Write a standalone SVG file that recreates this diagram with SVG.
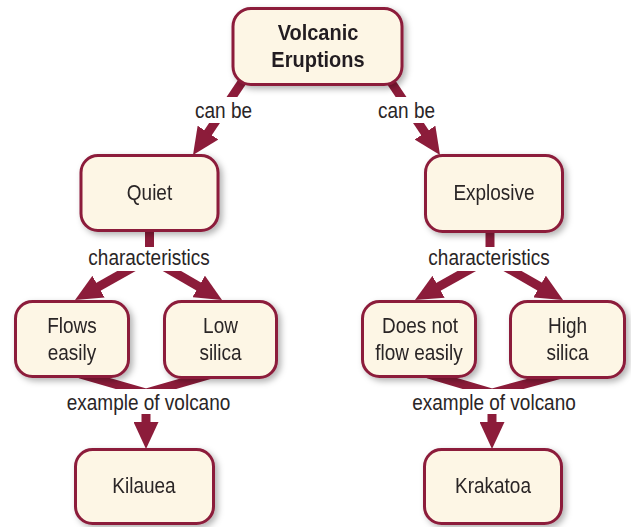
<svg xmlns="http://www.w3.org/2000/svg" width="631" height="527" viewBox="0 0 631 527">
<defs>
<style>
.box{fill:#fdf6e5;stroke:#8c1c3a;stroke-width:3;}
.node{filter:url(#sh);}
.t{font-family:"Liberation Sans",Arial,sans-serif;font-size:19px;fill:#2a2526;text-anchor:middle;}
.tb{font-family:"Liberation Sans",Arial,sans-serif;font-size:20px;font-weight:bold;fill:#231f20;text-anchor:middle;}
.c{fill:none;stroke:#8c1c3a;stroke-width:9;stroke-linejoin:miter;}
.a{marker-end:url(#ah);}
.bg{fill:#ffffff;}
</style>
<filter id="sh" x="-20%" y="-20%" width="150%" height="150%">
<feDropShadow dx="3" dy="3" stdDeviation="3" flood-color="#000" flood-opacity="0.3"/>
</filter>
<marker id="ah" viewBox="0 0 27 25" refX="13" refY="12.5" markerWidth="27" markerHeight="25" markerUnits="userSpaceOnUse" orient="auto">
<path d="M0,0 L27,12.5 L0,25 Z" fill="#8c1c3a"/>
</marker>
</defs>
<rect width="631" height="527" fill="#ffffff"/>
<g id="connectors">
<line class="c a" x1="246.7" y1="75" x2="200.8" y2="143.4"/>
<line class="c a" x1="386.3" y1="75" x2="432.2" y2="143.4"/>
<path class="c" d="M149.5,225 L149.5,258"/>
<line class="c a" x1="149.5" y1="258" x2="87.2" y2="293.1"/>
<line class="c a" x1="149.5" y1="258" x2="209.9" y2="293"/>
<path class="c" d="M490,225 L490,258"/>
<line class="c a" x1="490" y1="258" x2="427.2" y2="293.1"/>
<line class="c a" x1="490" y1="258" x2="550.9" y2="293"/>
<path class="c" d="M80,374 L146,393 L212,374"/>
<line class="c a" x1="146" y1="393" x2="146" y2="435"/>
<path class="c" d="M428,374 L492,393 L562,374"/>
<line class="c a" x1="492" y1="393" x2="492" y2="435"/>
</g>
<g id="labels">
<rect class="bg" x="190" y="97" width="67" height="26"/>
<rect class="bg" x="373" y="97" width="67" height="26"/>
<rect class="bg" x="85" y="247" width="128" height="24"/>
<rect class="bg" x="425" y="247" width="128" height="24"/>
<rect class="bg" x="60" y="389" width="177" height="25"/>
<rect class="bg" x="405" y="389" width="178" height="25"/>
<text class="t" transform="translate(223.5,118) scale(1,1.12)">can be</text>
<text class="t" transform="translate(406.5,118) scale(1,1.12)">can be</text>
<text class="t" transform="translate(149,265) scale(1,1.12)">characteristics</text>
<text class="t" transform="translate(489,265) scale(1,1.12)">characteristics</text>
<text class="t" transform="translate(148.5,410) scale(1,1.12)">example of volcano</text>
<text class="t" transform="translate(494,410) scale(1,1.12)">example of volcano</text>
</g>
<g id="n-volcanic" class="node">
<rect class="box" x="233" y="8.5" width="169" height="76" rx="18"/>
<text class="tb" transform="translate(318,40) scale(1,1.12)">Volcanic</text>
<text class="tb" transform="translate(318,67) scale(1,1.12)">Eruptions</text>
</g>
<g id="n-quiet" class="node">
<rect class="box" x="81" y="155.5" width="137" height="75" rx="17"/>
<text class="t" transform="translate(149.5,200) scale(1,1.12)">Quiet</text>
</g>
<g id="n-explosive" class="node">
<rect class="box" x="425.5" y="155.5" width="137" height="76" rx="17"/>
<text class="t" transform="translate(494,200) scale(1,1.12)">Explosive</text>
</g>
<g id="n-flows" class="node">
<rect class="box" x="15.5" y="301.5" width="113" height="75" rx="17"/>
<text class="t" transform="translate(72,333) scale(1,1.12)">Flows</text>
<text class="t" transform="translate(72,360) scale(1,1.12)">easily</text>
</g>
<g id="n-lowsilica" class="node">
<rect class="box" x="164.5" y="301.5" width="112" height="76" rx="17"/>
<text class="t" transform="translate(220.5,333) scale(1,1.12)">Low</text>
<text class="t" transform="translate(220.5,360) scale(1,1.12)">silica</text>
</g>
<g id="n-doesnot" class="node">
<rect class="box" x="362.5" y="301.5" width="113" height="75" rx="17"/>
<text class="t" transform="translate(420,333) scale(1,1.12)">Does not</text>
<text class="t" transform="translate(419,360) scale(1,1.12)">flow easily</text>
</g>
<g id="n-highsilica" class="node">
<rect class="box" x="510.5" y="301.5" width="114" height="76" rx="17"/>
<text class="t" transform="translate(567.5,333) scale(1,1.12)">High</text>
<text class="t" transform="translate(567.5,360) scale(1,1.12)">silica</text>
</g>
<g id="n-kilauea" class="node">
<rect class="box" x="75.5" y="449.5" width="138" height="74" rx="17"/>
<text class="t" transform="translate(144,493) scale(1,1.12)">Kilauea</text>
</g>
<g id="n-krakatoa" class="node">
<rect class="box" x="424.5" y="449.5" width="137" height="74" rx="17"/>
<text class="t" transform="translate(493,493) scale(1,1.12)">Krakatoa</text>
</g>
</svg>
